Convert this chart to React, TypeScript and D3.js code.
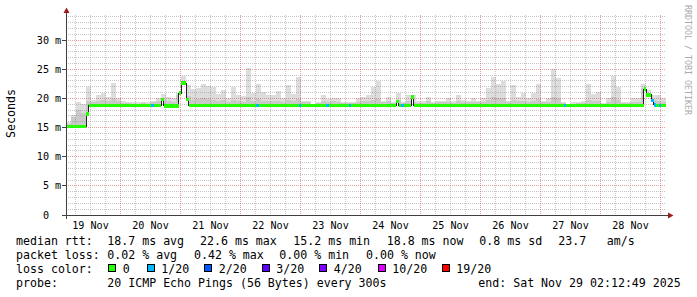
import React from 'react';
import * as d3 from 'd3';

const START = new Date(2025, 10, 19, 2, 12, 49);
const END = new Date(2025, 10, 29, 2, 12, 49);
const HOURS = 240;

const dayLabels = ["19 Nov", "20 Nov", "21 Nov", "22 Nov", "23 Nov", "24 Nov", "25 Nov", "26 Nov", "27 Nov", "28 Nov"];
const yTickValues = [0, 5, 10, 15, 20, 25, 30];
const yTickLabels = ["0", "5 m", "10 m", "15 m", "20 m", "25 m", "30 m"];

// median rtt step series: hour offset from start, value (ms), loss level index
const medianHour = [0, 8, 9, 34, 35, 38, 39, 45, 46, 48, 49, 76, 77, 93, 94, 104, 105, 113, 114, 132, 133, 134, 135, 138, 139, 199, 200, 231, 232, 234, 235, 236, 237, 238];
const medianMs = [15.2, 17.3, 18.8, 18.8, 18.8, 19.8, 18.7, 20.9, 22.6, 19.8, 18.8, 18.8, 18.8, 18.8, 18.8, 18.8, 18.8, 18.8, 18.8, 19.5, 18.8, 18.8, 18.8, 20.2, 18.8, 18.8, 18.8, 21.6, 20.6, 19.6, 18.9, 18.8, 18.8, 18.8];
const medianLoss = [0, 0, 0, 1, 0, 0, 0, 0, 0, 0, 0, 1, 0, 1, 0, 1, 0, 1, 0, 0, 0, 1, 0, 0, 0, 1, 0, 0, 0, 1, 1, 0, 1, 0];

// smoke (2-hour bins): outer top and inner top (ms)
const smokeTop = [
  16.0, 17.2, 19.3, 19.0, 22.0, 19.8, 20.6, 21.0, 20.2, 22.7,
  20.1, 19.5, 19.4, 19.3, 19.3, 19.4, 19.3, 19.6, 20.1, 20.8,
  20.2, 20.0, 21.0, 23.9, 22.3, 21.6, 21.7, 22.4, 22.2, 22.0,
  20.8, 21.4, 20.0, 21.9, 20.6, 20.4, 25.2, 21.0, 22.4, 21.1,
  20.6, 20.5, 21.2, 20.0, 22.3, 20.7, 23.6, 19.6, 19.6, 19.1,
  19.4, 20.6, 19.9, 20.1, 20.0, 19.4, 19.4, 19.4, 20.0, 20.2,
  20.6, 22.0, 23.0, 19.6, 20.2, 19.4, 21.0, 19.4, 20.5, 20.5,
  19.5, 19.5, 20.2, 19.4, 19.6, 19.6, 20.1, 19.5, 20.6, 19.8,
  19.6, 20.1, 19.6, 20.1, 21.8, 23.6, 22.5, 23.0, 19.6, 22.3,
  20.3, 21.0, 20.0, 21.0, 22.5, 19.6, 20.0, 25.0, 23.5, 19.4,
  19.0, 19.3, 19.4, 19.5, 22.4, 20.7, 21.1, 19.2, 20.0, 23.9,
  22.0, 19.4, 19.4, 20.0, 20.0, 22.4, 21.5, 20.5, 20.5, 20.1
];
const smokeMid = [
  15.6, 16.8, 18.0, 17.5, 19.6, 19.4, 19.6, 19.7, 19.5, 19.9,
  19.5, 19.2, 19.2, 19.1, 19.1, 19.2, 19.1, 19.3, 19.5, 19.8,
  19.5, 19.4, 20.6, 22.9, 20.4, 19.8, 19.9, 20.0, 19.9, 19.8,
  19.5, 19.7, 19.4, 19.8, 19.5, 19.4, 20.2, 19.6, 19.9, 19.6,
  19.5, 19.5, 19.6, 19.4, 19.8, 19.5, 19.9, 19.3, 19.3, 19.0,
  19.2, 19.5, 19.4, 19.5, 19.4, 19.2, 19.2, 19.2, 19.4, 19.5,
  19.5, 19.7, 19.9, 19.3, 19.5, 19.2, 19.8, 19.2, 19.5, 19.4,
  19.2, 19.2, 19.5, 19.2, 19.3, 19.3, 19.4, 19.2, 19.5, 19.4,
  19.3, 19.4, 19.3, 19.4, 19.8, 20.2, 20.0, 20.1, 19.3, 19.8,
  19.5, 19.6, 19.4, 19.6, 19.9, 19.3, 19.4, 20.3, 20.0, 19.2,
  18.95, 19.1, 19.2, 19.2, 19.8, 19.5, 19.6, 19.0, 19.4, 20.2,
  19.8, 19.2, 19.2, 19.4, 19.4, 21.8, 20.9, 19.8, 19.5, 19.4
];

const lossLabels = ["0", "1/20", "2/20", "3/20", "4/20", "10/20", "19/20"];
const lossColors = ["#26ff00", "#00b8ff", "#0059ff", "#5e00ff", "#7e00ff", "#dd00ff", "#ff0000"];

const rttStats = ["18.7 ms avg", "22.6 ms max", "15.2 ms min", "18.8 ms now", "0.8 ms sd", "23.7", "am/s"];
const lossStats = ["0.02 % avg", "0.42 % max", "0.00 % min", "0.00 % now"];
const probeText = "20 ICMP Echo Pings (56 Bytes) every 300s";
const endText = "end: Sat Nov 29 02:12:49 2025";

const rttX = [107.3, 200, 293.3, 386.7, 479.3, 558.3, 606.7];
const lossX = [107.3, 194, 279.3, 366];
const boxX = [108, 146.5, 204, 261.5, 319, 377.5, 441.5];

const MONO = "'DejaVu Sans Mono', monospace";

export default function App() {
  const W = 697, H = 297;
  const x0 = 66, x1 = 666, yTop = 15, yBot = 215;
  const x = d3.scaleTime().domain([START, END]).range([x0, x1]);
  const hx = (h: number) => x(new Date(START.getTime() + h * 3600e3));
  const y = d3.scaleLinear().domain([0, 34.29]).range([yBot, yTop]);

  const medianAt = (h: number) => medianMs[d3.bisectRight(medianHour, h) - 1];

  const hours = d3.range(HOURS + 1);
  const smokePts = hours.map((h) => {
    const hh = Math.min(h, HOURS - 1);
    const bin = Math.floor(hh / 2);
    const bottom = medianAt(hh);
    const top = Math.max(smokeTop[bin], bottom);
    const mid = Math.min(Math.max(smokeMid[bin], bottom), top);
    return { h, bottom, top, mid };
  });
  const outerArea = d3.area<any>().x((d) => hx(d.h)).y0((d) => y(d.bottom)).y1((d) => y(d.top)).curve(d3.curveStepAfter);
  const innerArea = d3.area<any>().x((d) => hx(d.h)).y0((d) => y(d.bottom)).y1((d) => y(d.mid)).curve(d3.curveStepAfter);

  const medPts = medianHour.map((h, i) => [h, medianMs[i]] as [number, number]);
  medPts.push([HOURS, medianMs[medianMs.length - 1]]);
  const medLine = d3.line<[number, number]>().x((d) => hx(d[0])).y((d) => y(d[1])).curve(d3.curveStepAfter);

  const vGrid = d3.timeHour.every(6)!.range(START, END);
  const hGrid = d3.range(1, 35);
  const dayStart = d3.timeDay.floor(START);

  const minorCol = "rgba(128,128,128,0.45)";
  const majorCol = "rgba(205,45,45,0.45)";

  return (
    <svg width={W} height={H} style={{ position: 'absolute', left: 0, top: 0, display: 'block' }} fontFamily={MONO}>
      <rect x={0} y={0} width={W} height={H} fill="#ffffff" />
      {/* smoke */}
      <path d={outerArea(smokePts) || ''} fill="#dddddd" shapeRendering="crispEdges" />
      <path d={innerArea(smokePts) || ''} fill="#c9c9c9" shapeRendering="crispEdges" />
      {/* grid */}
      {hGrid.map((v) => {
        const yy = Math.floor(y(v)) + 0.5;
        return (
          <line key={'h' + v} x1={x0} x2={x1} y1={yy} y2={yy}
            stroke={v % 5 === 0 ? majorCol : minorCol} strokeDasharray="1,1" shapeRendering="crispEdges" />
        );
      })}
      {vGrid.map((d, i) => {
        const xx = Math.floor(x(d)) + 0.5;
        const major = d.getHours() === 0;
        return (
          <line key={'v' + i} x1={xx} x2={xx} y1={yTop} y2={yBot}
            stroke={major ? majorCol : minorCol} strokeDasharray="1,1" shapeRendering="crispEdges" />
        );
      })}
      {/* median line */}
      <path d={medLine(medPts) || ''} fill="none" stroke="#202020" strokeWidth={1} shapeRendering="crispEdges" />
      {medianHour.map((h, i) => {
        const hEnd = i + 1 < medianHour.length ? medianHour[i + 1] : HOURS;
        const xa = hx(h), xb = hx(hEnd);
        const yy = y(medianMs[i]);
        return (
          <rect key={'m' + i} x={xa} width={xb - xa} y={yy - 1.75} height={3.5}
            fill={lossColors[medianLoss[i]]} shapeRendering="crispEdges" />
        );
      })}
      {/* axes */}
      <line x1={62} x2={669} y1={yBot + 0.5} y2={yBot + 0.5} stroke="#404040" shapeRendering="crispEdges" />
      <line x1={x0 + 0.5} x2={x0 + 0.5} y1={219} y2={13} stroke="#404040" shapeRendering="crispEdges" />
      {yTickValues.map((v) => {
        const yy = Math.floor(y(v)) + 0.5;
        return <line key={'yt' + v} x1={62} x2={x0} y1={yy} y2={yy} stroke="#404040" shapeRendering="crispEdges" />;
      })}
      <path d={`M${x0 - 2.5},13 L${x0 + 3.5},13 L${x0 + 0.5},7.5 Z`} fill="#9b1c1c" />
      <path d={`M668,${yBot - 2.5} L668,${yBot + 3.5} L673.5,${yBot + 0.5} Z`} fill="#9b1c1c" />
      {/* y labels */}
      {yTickLabels.map((lab, i) => {
        const parts = lab.split(' ');
        const yy = y(yTickValues[i]) + 3.6;
        return (
          <g key={'yl' + i} fontSize={10.15} fill="#000">
            <text x={49} y={yy} textAnchor="end">{parts[0]}</text>
            {parts[1] && <text x={55} y={yy}>{parts[1]}</text>}
          </g>
        );
      })}
      {/* x labels */}
      {dayLabels.map((lab, i) => {
        const noon = new Date(d3.timeDay.offset(dayStart, i).getTime() + 12 * 3600e3);
        return (
          <text key={'xl' + i} x={x(noon)} y={228.5} textAnchor="middle" fontSize={10.15} fill="#000">{lab}</text>
        );
      })}
      {/* axis title */}
      <text transform="translate(14.5,113.5) rotate(-90)" textAnchor="middle" fontSize={11.6} fill="#000">Seconds</text>
      {/* watermark */}
      <text transform="translate(684.5,5) rotate(90)" fontSize={8.3} fill="#aaaaaa">RRDTOOL / TOBI OETIKER</text>
      {/* legend */}
      <g fontSize={11.6} fill="#000">
        <text x={16} y={245}>median rtt:</text>
        {rttStats.map((s, i) => <text key={'r' + i} x={rttX[i]} y={245}>{s}</text>)}
        <text x={16} y={259}>packet loss:</text>
        {lossStats.map((s, i) => <text key={'l' + i} x={lossX[i]} y={259}>{s}</text>)}
        <text x={16} y={273}>loss color:</text>
        {lossLabels.map((s, i) => (
          <g key={'c' + i}>
            <rect x={boxX[i] + 0.5} y={264.5} width={7} height={7} fill={lossColors[i]} stroke="#000" strokeWidth={1} shapeRendering="crispEdges" />
            <text x={boxX[i] + 14.8} y={273}>{s}</text>
          </g>
        ))}
        <text x={16} y={287}>probe:</text>
        <text x={107.3} y={287}>{probeText}</text>
        <text x={478.3} y={287}>{endText}</text>
      </g>
    </svg>
  );
}
